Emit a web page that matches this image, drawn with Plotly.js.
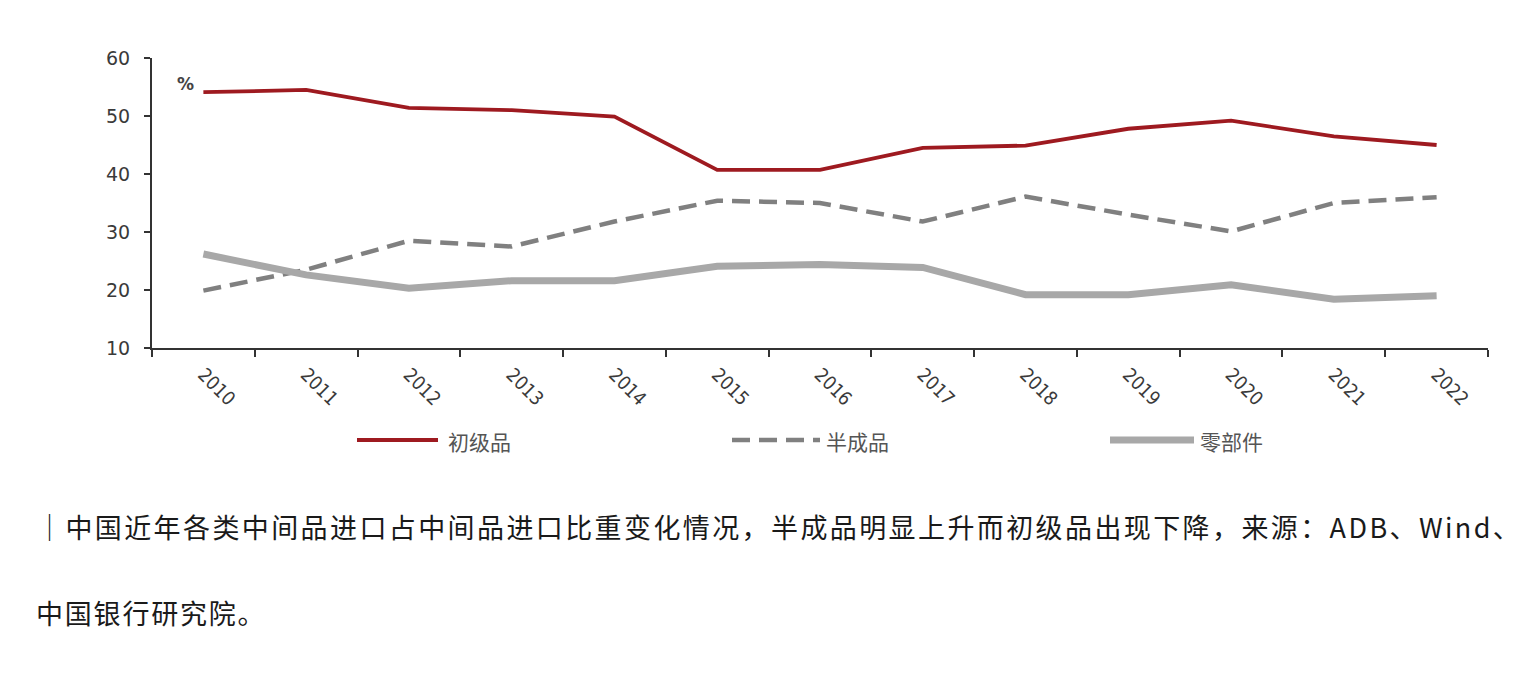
<!DOCTYPE html>
<html>
<head>
<meta charset="utf-8">
<script src="https://cdn.plot.ly/plotly-3.0.1.min.js"></script>
<style>
  html, body { margin: 0; padding: 0; background: #fff; }
  #wrap { position: relative; width: 1536px; height: 688px; overflow: hidden; }
  #chart { position: absolute; left: 0; top: 0; width: 1536px; height: 688px; }
  .cap { position: absolute; font-family: "Noto Sans CJK SC", sans-serif; font-size: 27px; color: #1a1a1a; letter-spacing: 2.4px; white-space: nowrap; line-height: 1; }
</style>
</head>
<body>
<div id="wrap">
  <div id="chart"></div>
  <div class="cap" id="cap1" style="left:36px; top:513px;"></div>
  <div class="cap" id="cap2" style="left:36px; top:599px; letter-spacing:1.8px;"></div>
</div>
<script>
const years = ["2010","2011","2012","2013","2014","2015","2016","2017","2018","2019","2020","2021","2022"];
const seriesNames = ["初级品", "半成品", "零部件"];
const primary = [54.1, 54.5, 51.4, 51.0, 49.9, 40.7, 40.7, 44.5, 44.9, 47.8, 49.2, 46.5, 45.0];
const semiFinished = [19.9, 23.5, 28.5, 27.5, 31.8, 35.4, 35.0, 31.8, 36.1, 33.0, 30.1, 35.0, 36.0];
const parts = [26.2, 22.6, 20.3, 21.6, 21.6, 24.1, 24.4, 23.9, 19.2, 19.2, 20.9, 18.4, 19.0];
const unitLabel = "%";
const yTicks = [10, 20, 30, 40, 50, 60];
const caption1 = "｜中国近年各类中间品进口占中间品进口比重变化情况，半成品明显上升而初级品出现下降，来源：ADB、Wind、";
const caption2 = "中国银行研究院。";

document.getElementById("cap1").textContent = caption1;
document.getElementById("cap2").textContent = caption2;

const styles = [
  {color: "#9e1a20", width: 3.8, dash: "solid"},
  {color: "#808080", width: 4.5, dash: "18px,9px"},
  {color: "#a8a8a8", width: 7, dash: "solid"}
];
const data = [primary, semiFinished, parts];

const traces = data.map((vals, i) => ({
  x: years, y: vals, type: "scatter", mode: "lines", name: seriesNames[i],
  line: {color: styles[i].color, width: styles[i].width, dash: styles[i].dash},
  hoverinfo: "x+y+name", showlegend: false
}));

// manual legend (pixel -> paper conversion)
const L = 152, R = 1488, T = 58, B = 348;
const px = v => (v - L) / (R - L);
const py = v => (B - v) / (B - T);
const legendItems = [
  {x0: 357, x1: 438, tx: 446},
  {x0: 732, x1: 820, tx: 824},
  {x0: 1110, x1: 1194, tx: 1198}
];
const shapes = legendItems.map((it, i) => ({
  type: "line", xref: "paper", yref: "paper",
  x0: px(it.x0), x1: px(it.x1), y0: py(440), y1: py(440),
  line: {color: styles[i].color, width: styles[i].width, dash: styles[i].dash}
}));
const annotations = legendItems.map((it, i) => ({
  xref: "paper", yref: "paper", x: px(it.tx), y: py(441),
  xanchor: "left", yanchor: "middle", showarrow: false,
  text: seriesNames[i],
  font: {family: "Noto Sans CJK SC, sans-serif", size: 21, color: "#555"}
}));
annotations.push({
  xref: "paper", yref: "paper", x: px(185), y: py(84),
  xanchor: "center", yanchor: "middle", showarrow: false,
  text: "<b>" + unitLabel + "</b>",
  font: {family: "DejaVu Sans, sans-serif", size: 17, color: "#444"}
});

const layout = {
  width: 1536, height: 688,
  margin: {l: L, r: 1536 - R, t: T, b: 688 - B, pad: 0},
  paper_bgcolor: "#fff", plot_bgcolor: "#fff",
  showlegend: false,
  xaxis: {
    type: "category", range: [-0.5, 12.5],
    showline: true, linecolor: "#333", linewidth: 2,
    ticks: "outside", tickson: "boundaries", ticklen: 7, tickwidth: 2, tickcolor: "#333",
    tickangle: 45, showgrid: false, zeroline: false, ticklabelstandoff: 6,
    tickfont: {family: "DejaVu Sans Condensed, DejaVu Sans, sans-serif", size: 19, color: "#3a3a3a"},
    fixedrange: true
  },
  yaxis: {
    range: [10, 60], tickvals: yTicks, ticktext: yTicks.map(String),
    showline: true, linecolor: "#333", linewidth: 2,
    ticks: "outside", ticklen: 6, tickwidth: 2, tickcolor: "#333",
    showgrid: false, zeroline: false, ticklabelstandoff: 10,
    tickfont: {family: "DejaVu Sans, sans-serif", size: 19, color: "#3a3a3a"},
    fixedrange: true
  },
  shapes: shapes,
  annotations: annotations
};

Plotly.newPlot("chart", traces, layout, {displayModeBar: false, staticPlot: true});
</script>
</body>
</html>
